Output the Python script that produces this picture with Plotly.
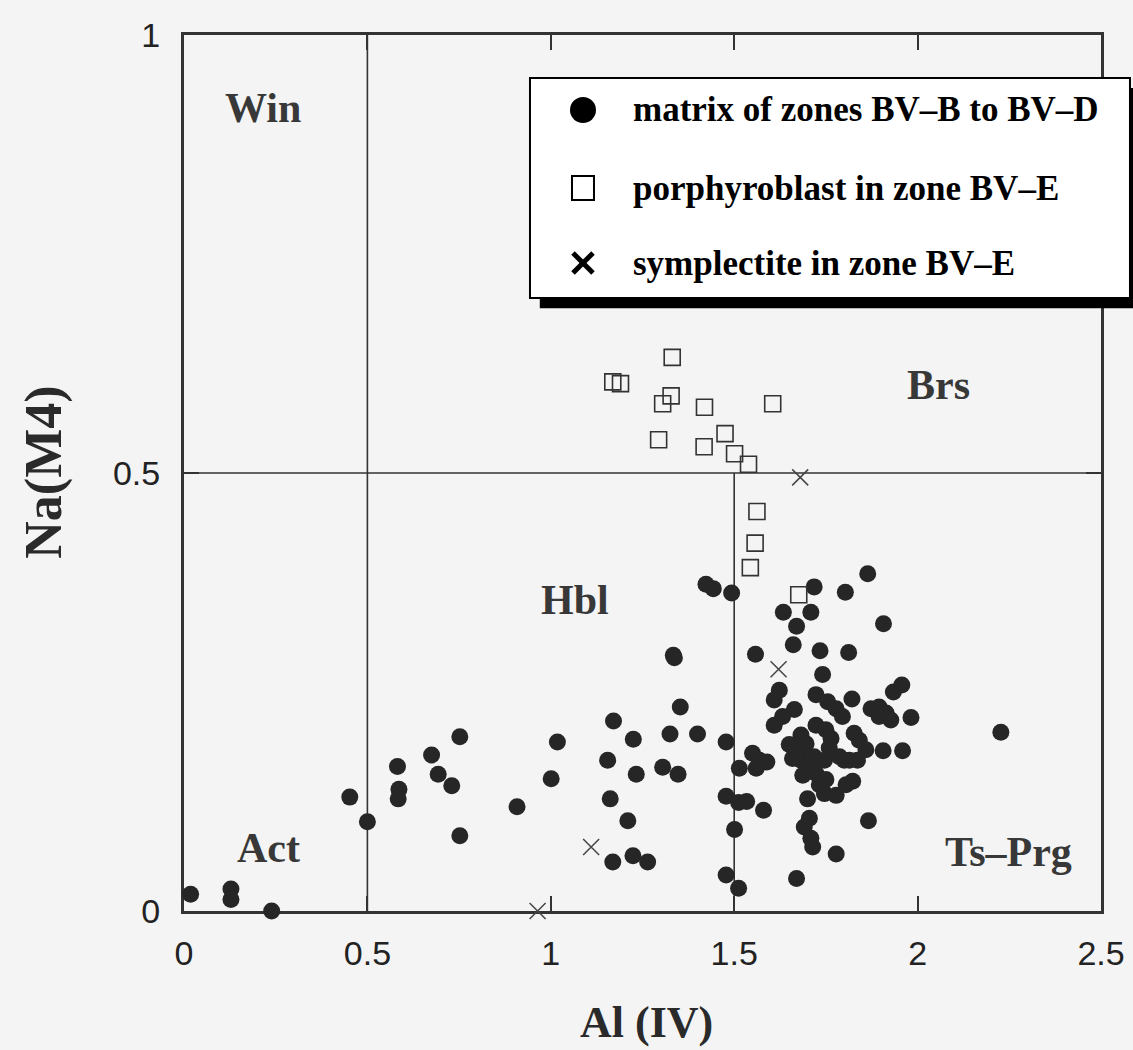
import plotly.graph_objects as go

# Amphibole classification: Al(IV) vs Na(M4)

# matrix of zones BV-B to BV-D (filled circles)
matrix_al = [
    0.018, 0.128, 0.128, 0.239, 0.452, 0.500, 0.582, 0.586, 0.584, 0.675,
    0.693, 0.730, 0.752, 0.752, 0.908, 1.001, 1.018, 1.423, 1.443, 1.493,
    1.334, 1.337, 1.353, 1.171, 1.225, 1.325, 1.400, 1.478, 1.155, 1.233,
    1.305, 1.347, 1.162, 1.210, 1.169, 1.224, 1.264, 1.478, 1.512, 1.501,
    1.478, 1.512, 1.534, 1.580, 1.514, 1.550, 1.569, 1.589, 1.560, 1.558,
    1.634, 1.709, 1.670, 1.661, 1.718, 1.803, 1.734, 1.812, 1.741, 1.623,
    1.609, 1.700, 1.705, 1.691, 1.709, 1.714, 1.778, 1.670, 1.864, 1.907,
    1.723, 1.755, 1.778, 1.795, 1.821, 1.934, 1.957, 1.873, 1.895, 1.914,
    1.927, 1.895, 1.982, 1.632, 1.664, 1.609, 1.723, 1.750, 1.764, 1.827,
    1.841, 1.682, 1.696, 1.678, 1.659, 1.682, 1.705, 1.814, 1.836, 1.859,
    1.906, 1.959, 1.687, 1.723, 1.750, 1.732, 1.746, 1.778, 1.805, 1.823,
    1.866, 2.227, 1.759, 1.718, 1.746, 1.787, 1.650, 1.800,
]
matrix_na = [
    0.019, 0.025, 0.013, 0.000, 0.130, 0.102, 0.165, 0.139, 0.128, 0.178,
    0.156, 0.143, 0.199, 0.086, 0.119, 0.151, 0.193, 0.373, 0.368, 0.363,
    0.292, 0.289, 0.233, 0.217, 0.196, 0.202, 0.202, 0.193, 0.172, 0.156,
    0.164, 0.156, 0.128, 0.103, 0.056, 0.063, 0.056, 0.041, 0.026, 0.093,
    0.131, 0.124, 0.125, 0.115, 0.163, 0.180, 0.172, 0.170, 0.163, 0.293,
    0.341, 0.341, 0.325, 0.304, 0.370, 0.364, 0.297, 0.295, 0.270, 0.252,
    0.241, 0.128, 0.106, 0.096, 0.083, 0.073, 0.065, 0.037, 0.385, 0.328,
    0.247, 0.239, 0.231, 0.222, 0.242, 0.250, 0.258, 0.231, 0.233, 0.226,
    0.218, 0.222, 0.221, 0.222, 0.230, 0.212, 0.212, 0.207, 0.197, 0.203,
    0.195, 0.201, 0.191, 0.184, 0.174, 0.172, 0.167, 0.172, 0.172, 0.184,
    0.183, 0.183, 0.155, 0.157, 0.150, 0.144, 0.134, 0.132, 0.144, 0.148,
    0.103, 0.204, 0.186, 0.176, 0.172, 0.176, 0.190, 0.172,
]

# porphyroblast in zone BV-E (open squares)
porph_al = [1.331, 1.169, 1.190, 1.328, 1.305, 1.419, 1.605, 1.294,
            1.475, 1.418, 1.501, 1.539, 1.562, 1.557, 1.544, 1.676]
porph_na = [0.632, 0.604, 0.602, 0.588, 0.579, 0.575, 0.579, 0.538,
            0.545, 0.530, 0.522, 0.510, 0.456, 0.420, 0.392, 0.361]

# symplectite in zone BV-E (crosses)
sympl_al = [1.680, 1.621, 1.110, 0.964]
sympl_na = [0.495, 0.276, 0.073, 0.000]

# field names of the diagram
field_names = ["Win", "Brs", "Hbl", "Act", "Ts\u2013Prg"]
field_al = [0.215, 2.058, 1.065, 0.229, 2.248]
field_na = [0.917, 0.600, 0.355, 0.072, 0.067]

legend_labels = ["matrix of zones BV\u2013B to BV\u2013D",
                 "porphyroblast in zone BV\u2013E",
                 "symplectite in zone BV\u2013E"]

x_ticks = [0, 0.5, 1, 1.5, 2, 2.5]
x_tick_text = ["0", "0.5", "1", "1.5", "2", "2.5"]
y_ticks = [0, 0.5, 1]
y_tick_text = ["0", "0.5", "1"]

INK = "#262626"
PAPER = "#f4f4f4"
SERIF = "Liberation Serif, Times New Roman, serif"
SANS = "Liberation Sans Narrow, Arial Narrow, Liberation Sans, Arial, sans-serif"

fig = go.Figure()

fig.add_trace(go.Scatter(
    x=matrix_al, y=matrix_na, mode="markers", cliponaxis=False,
    marker=dict(symbol="circle", size=17, color=INK, line=dict(width=0)),
    name=legend_labels[0], showlegend=False,
))
fig.add_trace(go.Scatter(
    x=porph_al, y=porph_na, mode="markers", cliponaxis=False,
    marker=dict(symbol="square-open", size=16, color="#333333",
                line=dict(width=1.6, color="#333333")),
    name=legend_labels[1], showlegend=False,
))
fig.add_trace(go.Scatter(
    x=sympl_al, y=sympl_na, mode="markers", cliponaxis=False,
    marker=dict(symbol="x-thin-open", size=16, color="#444444",
                line=dict(width=1.5, color="#444444")),
    name=legend_labels[2], showlegend=False,
))

shapes = []
# field boundaries
line_style = dict(color="#333333", width=1.6)
shapes.append(dict(type="line", xref="x", yref="y", x0=0.5, x1=0.5, y0=0, y1=1,
                   line=line_style, layer="below"))
shapes.append(dict(type="line", xref="x", yref="y", x0=0, x1=2.5, y0=0.5, y1=0.5,
                   line=line_style, layer="below"))
shapes.append(dict(type="line", xref="x", yref="y", x0=1.5, x1=1.5, y0=0, y1=0.5,
                   line=line_style, layer="below"))

# legend box with drop shadow
shapes.append(dict(type="rect", xref="paper", yref="paper",
                   x0=0.388, x1=1.06, y0=0.688, y1=0.9395,
                   fillcolor="black", line=dict(width=0), layer="above"))
shapes.append(dict(type="rect", xref="paper", yref="paper",
                   x0=0.3773, x1=1.0316, y0=0.6998, y1=0.9509,
                   fillcolor="white", line=dict(color="black", width=2),
                   layer="above"))

sym_x = 0.4351
row_y = [0.9144, 0.8253, 0.7397]
# legend symbols
shapes.append(dict(type="circle", xref="paper", yref="paper",
                   xsizemode="pixel", ysizemode="pixel",
                   xanchor=sym_x, yanchor=row_y[0], x0=-13, x1=13, y0=-13, y1=13,
                   fillcolor="black", line=dict(width=0), layer="above"))
shapes.append(dict(type="rect", xref="paper", yref="paper",
                   xsizemode="pixel", ysizemode="pixel",
                   xanchor=sym_x, yanchor=row_y[1], x0=-11, x1=11, y0=-12, y1=12,
                   fillcolor="white", line=dict(color="black", width=2), layer="above"))
for dx in (1, -1):
    shapes.append(dict(type="line", xref="paper", yref="paper",
                       xsizemode="pixel", ysizemode="pixel",
                       xanchor=sym_x, yanchor=row_y[2],
                       x0=-10 * dx, x1=10 * dx, y0=-10, y1=10,
                       line=dict(color="black", width=5), layer="above"))

annotations = []
for label, yy in zip(legend_labels, row_y):
    annotations.append(dict(
        text=f"<b>{label}</b>", xref="paper", yref="paper", x=0.4875, y=yy,
        xanchor="left", yanchor="middle", showarrow=False,
        font=dict(family=SERIF, size=35, color="black"),
    ))

for name, fx, fy in zip(field_names, field_al, field_na):
    annotations.append(dict(
        text=f"<b>{name}</b>", x=fx, y=fy, xref="x", yref="y",
        xanchor="center", yanchor="middle", showarrow=False,
        font=dict(family=SERIF, size=42, color="#383838"),
    ))

# axis titles
annotations.append(dict(
    text="<b>Al (IV)</b>", xref="paper", yref="paper", x=0.504, y=-0.127,
    xanchor="center", yanchor="middle", showarrow=False,
    font=dict(family=SERIF, size=44, color="#2a2a2a"),
))
annotations.append(dict(
    text="<b>Na(M4)</b>", xref="paper", yref="paper", x=-0.152, y=0.501,
    xanchor="center", yanchor="middle", showarrow=False, textangle=-90,
    font=dict(family=SERIF, size=52, color="#2a2a2a"),
))

axis_common = dict(
    showline=True, linecolor="#333333", linewidth=3, mirror="ticks",
    ticks="inside", ticklen=15, tickwidth=1.5, tickcolor="#333333",
    showgrid=False, zeroline=False, layer="below traces", automargin=False,
    tickfont=dict(family=SANS, size=34, color="#222222"),
)

fig.update_layout(
    width=1133, height=1050,
    margin=dict(l=184, r=32, t=35, b=139, autoexpand=False),
    paper_bgcolor=PAPER, plot_bgcolor=PAPER,
    xaxis=dict(range=[0, 2.5], tickvals=x_ticks, ticktext=x_tick_text,
               ticklabelstandoff=10, **axis_common),
    yaxis=dict(range=[0, 1], tickvals=y_ticks, ticktext=y_tick_text,
               ticklabelstandoff=14, **axis_common),
    shapes=shapes,
    annotations=annotations,
    showlegend=False,
)

fig.write_html("out.html")
